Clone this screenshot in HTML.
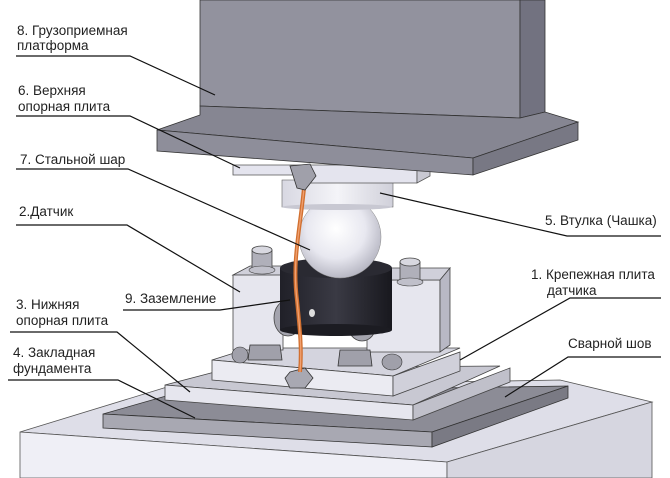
<!DOCTYPE html>
<html><head><meta charset="utf-8"><style>
html,body{margin:0;padding:0;background:#fff;}
svg{display:block;}
text{font-family:"Liberation Sans","DejaVu Sans",sans-serif;font-size:13.5px;fill:#222;}
</style></head><body>
<svg width="670" height="478" viewBox="0 0 670 478" xmlns="http://www.w3.org/2000/svg">
<defs>
<radialGradient id="ball" cx="0.45" cy="0.4" r="0.6"><stop offset="0" stop-color="#ffffff"/><stop offset="0.6" stop-color="#e8e8f0"/><stop offset="1" stop-color="#b8b8c4"/></radialGradient>
<linearGradient id="cup" x1="0" x2="1"><stop offset="0" stop-color="#d8d8e2"/><stop offset="0.5" stop-color="#f4f4f8"/><stop offset="1" stop-color="#d0d0da"/></linearGradient>
<linearGradient id="blk" x1="0" x2="1"><stop offset="0" stop-color="#202028"/><stop offset="0.5" stop-color="#3a3a44"/><stop offset="1" stop-color="#18181e"/></linearGradient>
</defs>
<!-- concrete -->
<polygon points="20,432 167,387 560,380 652,402 447,462" fill="#dedee8" stroke="#555" stroke-width="0.8"/>
<polygon points="20,432 447,462 447,478 20,478" fill="#efeff6" stroke="#555" stroke-width="0.8"/>
<polygon points="447,462 652,402 652,478 447,478" fill="#d6d6e0" stroke="#555" stroke-width="0.8"/>
<!-- embedded plate -->
<polygon points="103,414 180,392 568,386 432,432" fill="#8c8c96" stroke="#333" stroke-width="0.8"/>
<polygon points="103,414 432,432 432,447 103,428" fill="#a8a8b2" stroke="#333" stroke-width="0.8"/>
<polygon points="432,432 568,386 568,398 432,447" fill="#7a7a84" stroke="#333" stroke-width="0.8"/>
<!-- lower plate 3 -->
<polygon points="165,385 230,368 500,366 413,405" fill="#c8c8d2" stroke="#444" stroke-width="0.8"/>
<polygon points="165,385 413,405 413,420 165,400" fill="#e6e6ee" stroke="#444" stroke-width="0.8"/>
<polygon points="413,405 510,368 510,382 413,420" fill="#c0c0ca" stroke="#444" stroke-width="0.8"/>
<!-- mount plate 1 -->
<polygon points="212,360 250,348 460,348 393,376" fill="#d4d4de" stroke="#444" stroke-width="0.8"/>
<polygon points="212,360 393,376 393,396 212,380" fill="#ebebf2" stroke="#444" stroke-width="0.8"/>
<polygon points="393,376 460,352 460,371 393,396" fill="#d0d0da" stroke="#444" stroke-width="0.8"/>
<!-- sensor block -->
<polygon points="233,275 250,266 375,266 367,280" fill="#d0d0da" stroke="#444" stroke-width="0.8"/>
<rect x="233" y="275" width="50" height="75" fill="#e6e6ee" stroke="#444" stroke-width="0.8"/>
<polygon points="367,280 440,280 440,352 367,352" fill="#e6e6ee" stroke="#444" stroke-width="0.8"/>
<polygon points="367,280 385,268 450,268 440,280" fill="#d0d0da" stroke="#444" stroke-width="0.8"/>
<polygon points="440,280 450,268 450,345 440,352" fill="#b8b8c4" stroke="#444" stroke-width="0.8"/>
<!-- discs -->
<ellipse cx="288" cy="318" rx="14" ry="18" fill="#a4a4ae" stroke="#444" stroke-width="0.8"/>
<ellipse cx="362" cy="325" rx="14" ry="16" fill="#a4a4ae" stroke="#444" stroke-width="0.8"/>
<!-- black cylinder -->
<rect x="280" y="268" width="112" height="62" fill="url(#blk)"/>
<ellipse cx="336" cy="330" rx="56" ry="6" fill="#1c1c22"/>
<ellipse cx="336" cy="268" rx="56" ry="10" fill="#2a2a32"/>
<ellipse cx="312" cy="313" rx="3" ry="4" fill="#ddd"/>
<!-- studs -->
<rect x="252" y="250" width="20" height="20" fill="#b0b0ba" stroke="#444" stroke-width="0.8"/>
<ellipse cx="262" cy="250" rx="10" ry="4" fill="#d8d8e0" stroke="#444" stroke-width="0.8"/>
<ellipse cx="262" cy="270" rx="13" ry="4" fill="#c0c0ca" stroke="#444" stroke-width="0.6"/>
<rect x="400" y="262" width="20" height="20" fill="#b0b0ba" stroke="#444" stroke-width="0.8"/>
<ellipse cx="410" cy="262" rx="10" ry="4" fill="#d8d8e0" stroke="#444" stroke-width="0.8"/>
<ellipse cx="410" cy="282" rx="13" ry="4" fill="#c0c0ca" stroke="#444" stroke-width="0.6"/>
<!-- bolts on plate -->
<polygon points="250,345 280,345 282,360 248,360" fill="#a0a0aa" stroke="#333" stroke-width="0.8"/>
<polygon points="340,350 370,350 372,366 338,366" fill="#a0a0aa" stroke="#333" stroke-width="0.8"/>
<ellipse cx="240" cy="355" rx="8" ry="8" fill="#a0a0aa" stroke="#333" stroke-width="0.6"/>
<ellipse cx="392" cy="362" rx="10" ry="8" fill="#a0a0aa" stroke="#333" stroke-width="0.6"/>
<polygon points="290,372 305,368 313,378 305,388 290,388 285,378" fill="#a8a8b2" stroke="#333" stroke-width="0.8"/>
<!-- ball -->
<circle cx="340" cy="237" r="41" fill="url(#ball)" stroke="#888" stroke-width="0.5"/>
<!-- cup -->
<rect x="282" y="180" width="111" height="27" fill="url(#cup)" stroke="#666" stroke-width="0.6"/>
<ellipse cx="337" cy="207" rx="55" ry="3" fill="#c8c8d2"/>
<!-- upper plate -->
<polygon points="233,165 417,165 417,183 300,183 300,175 233,175" fill="#e4e4ee" stroke="#555" stroke-width="0.8"/>
<polygon points="417,165 430,160 430,176 417,183" fill="#c8c8d2" stroke="#555" stroke-width="0.8"/>
<!-- wire -->
<path d="M304,188 C300,230 292,260 297,300 C300,330 302,350 300,372" fill="none" stroke="#d27030" stroke-width="4"/>
<path d="M304,188 C300,230 292,260 297,300 C300,330 302,350 300,372" fill="none" stroke="#f0a070" stroke-width="1.3"/>
<polygon points="290,166 310,164 316,176 305,190 297,188" fill="#a0a0aa" stroke="#333" stroke-width="0.8"/>
<!-- beam -->
<polygon points="200,0 520,0 520,118 200,106" fill="#92929e" stroke="#333" stroke-width="0.8"/>
<polygon points="520,0 545,0 545,112 520,118" fill="#727280" stroke="#333" stroke-width="0.8"/>
<polygon points="157,130 200,115 200,106 520,118 545,112 578,122 473,158" fill="#868692" stroke="#333" stroke-width="0.8"/>
<polygon points="157,130 473,158 473,175 157,151" fill="#8e8e9a" stroke="#333" stroke-width="0.8"/>
<polygon points="473,158 578,122 578,140 473,175" fill="#787884" stroke="#333" stroke-width="0.8"/>
<!-- leaders -->
<g stroke="#111" stroke-width="1.2" fill="none">
<polyline points="16,56 130,56 215,95"/>
<polyline points="16,116 130,116 240,168"/>
<polyline points="16,169 128,169 310,250"/>
<polyline points="16,225 127,225 240,292"/>
<polyline points="123,310 220,310 290,300"/>
<polyline points="10,332 117,332 190,392"/>
<polyline points="8,380 118,380 195,418"/>
<polyline points="661,236 567,236 380,193"/>
<polyline points="661,298 570,298 460,360"/>
<polyline points="661,357 568,357 505,397"/>
</g>
<!-- labels -->
<text x="17" y="35">8. Грузоприемная</text>
<text x="17" y="50">платформа</text>
<text x="18" y="95">6. Верхняя</text>
<text x="18" y="111">опорная плита</text>
<text x="20" y="164">7. Стальной шар</text>
<text x="19" y="216">2.Датчик</text>
<text x="125" y="303">9. Заземление</text>
<text x="16" y="309">3. Нижняя</text>
<text x="16" y="325">опорная плита</text>
<text x="13" y="357">4. Закладная</text>
<text x="13" y="373">фундамента</text>
<text x="545" y="225">5. Втулка (Чашка)</text>
<text x="531" y="279">1. Крепежная плита</text>
<text x="547" y="295">датчика</text>
<text x="568" y="348">Сварной шов</text>
</svg>
</body></html>
